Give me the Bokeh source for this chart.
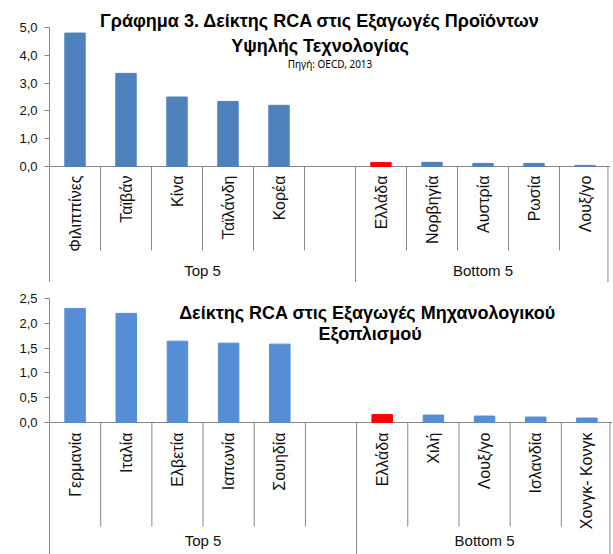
import math
from bokeh.plotting import figure
from bokeh.models import FactorRange, Range1d, FixedTicker, Label, Span, ColumnDataSource
from bokeh.layouts import column
from bokeh.embed import file_html
from bokeh.resources import INLINE
from bokeh.core.properties import value

# ---------------- data ----------------
group_labels = ["Top 5", "Bottom 5"]

hitech_title = ["Γράφημα 3. Δείκτης RCA στις Εξαγωγές Προϊόντων", "Υψηλής Τεχνολογίας"]
hitech_source = "Πηγή: OECD, 2013"
hitech_top = ["Φιλιππίνες", "Ταϊβάν", "Κίνα", "Ταϊλάνδη", "Κορέα"]
hitech_top_vals = [4.8, 3.35, 2.5, 2.34, 2.2]
hitech_bottom = ["Ελλάδα", "Νορβηγία", "Αυστρία", "Ρωσία", "Λουξ/γο"]
hitech_bottom_vals = [0.14, 0.15, 0.11, 0.11, 0.04]
hitech_ticks = [0, 1, 2, 3, 4, 5]

mech_title = ["Δείκτης RCA στις Εξαγωγές  Μηχανολογικού", "Εξοπλισμού"]
mech_top = ["Γερμανία", "Ιταλία", "Ελβετία", "Ιαπωνία", "Σουηδία"]
mech_top_vals = [2.3, 2.2, 1.64, 1.6, 1.58]
mech_bottom = ["Ελλάδα", "Χιλή", "Λουξ/γο", "Ισλανδία", "Χονγκ- Κονγκ"]
mech_bottom_vals = [0.16, 0.15, 0.13, 0.11, 0.09]
mech_ticks = [0, 0.5, 1.0, 1.5, 2.0, 2.5]

highlight = "Ελλάδα"
BLANK = " "

FONT = "Liberation Sans"
AXIS_COLOR = "#868686"
TEXT_COLOR = "#111111"


def make_chart(cats_top, vals_top, cats_bot, vals_bot, ticks, bar_color,
               width, height, border_left, top_px, zero_px, px_per_unit,
               inner_len, label_off, group_label_off, titles, title_offsets, source=None):
    factors = cats_top + [BLANK] + cats_bot
    tick_top = ticks[-1]
    y_top = tick_top + top_px / px_per_unit
    y_bottom = -(height - zero_px) / px_per_unit

    p = figure(width=width, height=height, output_backend="svg", toolbar_location=None,
               x_range=FactorRange(factors=factors, factor_padding=0, range_padding=0),
               y_range=Range1d(y_bottom, y_top),
               min_border_left=border_left, min_border_right=0,
               min_border_top=0, min_border_bottom=0)
    p.outline_line_color = None
    p.xaxis.visible = False
    p.xgrid.visible = False
    p.ygrid.visible = False
    p.background_fill_color = "white"
    p.border_fill_color = "white"

    # y axis
    yax = p.yaxis[0]
    yax.ticker = FixedTicker(ticks=ticks)
    yax.bounds = (y_bottom, tick_top)
    yax.major_label_overrides = {t: f"{t:.1f}".replace(".", ",") for t in ticks}
    yax.axis_line_color = AXIS_COLOR
    yax.major_tick_line_color = AXIS_COLOR
    yax.major_tick_out = 5
    yax.major_tick_in = 0
    yax.minor_tick_line_color = None
    yax.major_label_standoff = 7
    yax.major_label_text_font = FONT
    yax.major_label_text_font_size = "13px"
    yax.major_label_text_color = TEXT_COLOR

    # horizontal zero line
    p.add_layout(Span(location=0, dimension="width", line_color=AXIS_COLOR,
                      line_width=1, level="underlay"))

    # bars
    colors = ["#FF0000" if c == highlight else bar_color for c in cats_top + cats_bot]
    bars = ColumnDataSource(dict(x=cats_top + cats_bot, top=vals_top + vals_bot, color=colors))
    p.vbar(x="x", top="top", bottom=0, width=0.4, source=bars,
           fill_color="color", line_color="color", line_width=1)

    # separators: inner (short) and group (long)
    inner = [(f, -0.5) for f in factors[1:] if f != cats_bot[0]]
    groups = [(cats_bot[0], -0.5), (cats_bot[-1], 0.45)]
    y_inner = -inner_len / px_per_unit
    p.segment(x0=inner, x1=inner, y0=[0] * len(inner), y1=[y_inner] * len(inner),
              line_color=AXIS_COLOR, line_width=1)
    p.segment(x0=groups, x1=groups, y0=[0] * 2, y1=[y_bottom] * 2,
              line_color=AXIS_COLOR, line_width=1)

    # category labels
    named = cats_top + cats_bot
    p.text(x=named, y=[0] * len(named), text=named, angle=math.pi / 2,
           text_align="right", text_baseline="middle", y_offset=label_off,
           text_font=value(FONT), text_font_size="16px", text_color=TEXT_COLOR)

    # group labels
    n_top = len(cats_top) + 1
    gx = [(cats_top[0], -0.5 + n_top / 2), (cats_bot[0], -0.5 + len(cats_bot) / 2)]
    p.text(x=gx, y=[0, 0], text=group_labels, text_align="center", text_baseline="middle",
           y_offset=group_label_off, text_font=value(FONT), text_font_size="15px",
           text_color=TEXT_COLOR)

    # titles
    mid = len(factors) / 2
    for t, (dx, dy) in zip(titles, title_offsets):
        p.add_layout(Label(x=mid, y=tick_top, text=t, x_offset=dx, y_offset=dy,
                           text_align="center", text_baseline="middle",
                           text_font=FONT, text_font_style="bold", text_font_size="18px",
                           text_color="#000000"))
    if source is not None:
        text, (dx, dy) = source
        p.add_layout(Label(x=mid, y=tick_top, text=text, x_offset=dx, y_offset=dy,
                           text_align="center", text_baseline="middle",
                           text_font="Noto Sans", text_font_size="10px",
                           text_color="#000000"))
    return p


p1 = make_chart(hitech_top, hitech_top_vals, hitech_bottom, hitech_bottom_vals,
                hitech_ticks, "#4F81BD",
                width=610, height=282, border_left=48, top_px=27, zero_px=166,
                px_per_unit=27.8, inner_len=84, label_off=9, group_label_off=104,
                titles=hitech_title, title_offsets=[(-10, 7), (-10, -18)],
                source=(hitech_source, (0, -36)))

p2 = make_chart(mech_top, mech_top_vals, mech_bottom, mech_bottom_vals,
                mech_ticks, "#558ED5",
                width=612, height=272, border_left=49, top_px=16, zero_px=140,
                px_per_unit=49.6, inner_len=104, label_off=10, group_label_off=118,
                titles=mech_title, title_offsets=[(39, -14), (39, -35)])

layout = column(p1, p2, spacing=0)
open("out.html", "w").write(file_html(layout, INLINE))
